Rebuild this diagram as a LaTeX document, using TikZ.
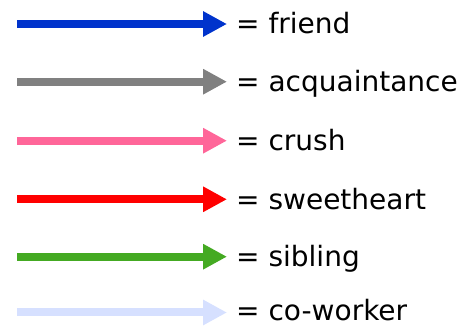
\documentclass[tikz,border=0pt]{standalone}
\usepackage{fontspec}
\setmainfont{DejaVu Sans}
\usepackage{tikz}
\usetikzlibrary{arrows.meta,positioning}
\definecolor{friendblue}{RGB}{0,51,204}
\definecolor{acqgray}{RGB}{128,128,128}
\definecolor{crushpink}{RGB}{255,102,153}
\definecolor{sweetred}{RGB}{255,0,0}
\definecolor{siblinggreen}{RGB}{68,170,34}
\definecolor{coworkerblue}{RGB}{214,224,255}

\tikzset{
    relarrow/.style={line width=8pt, shorten >=9pt,
        -{Triangle[length=24pt,width=24pt]}},
    keylabel/.style={anchor=base west, inner sep=0pt,
        font=\fontsize{28}{28}\selectfont}
}

\begin{document}
\begin{tikzpicture}[x=1pt,y=-1pt]
    \useasboundingbox (0,0) rectangle (464,326);
    % Start points of the arrows
    \coordinate (s1) at (17,24);
    \coordinate (s2) at (17,81.7);
    \coordinate (s3) at (17,140.7);
    \coordinate (s4) at (17,199.3);
    \coordinate (s5) at (17,256.7);
    \coordinate (s6) at (17,312.5);
    % Labels (baseline sits about 10 below the arrow)
    \node[keylabel] (friend) at (236,34) {= friend};
    \node[keylabel] (acq) at (236,91.7) {= acquaintance};
    \node[keylabel] (crush) at (236,150.7) {= crush};
    \node[keylabel] (sweet) at (236,209.3) {= sweetheart};
    \node[keylabel] (sibling) at (236,266.7) {= sibling};
    \node[keylabel] (cowork) at (236,321) {= co-worker};
    % Arrows
    \draw[relarrow, friendblue] (s1) -- (s1 -| friend.west);
    \draw[relarrow, acqgray] (s2) -- (s2 -| acq.west);
    \draw[relarrow, crushpink] (s3) -- (s3 -| crush.west);
    \draw[relarrow, sweetred] (s4) -- (s4 -| sweet.west);
    \draw[relarrow, siblinggreen] (s5) -- (s5 -| sibling.west);
    \draw[relarrow, coworkerblue] (s6) -- (s6 -| cowork.west);
\end{tikzpicture}
\end{document}
